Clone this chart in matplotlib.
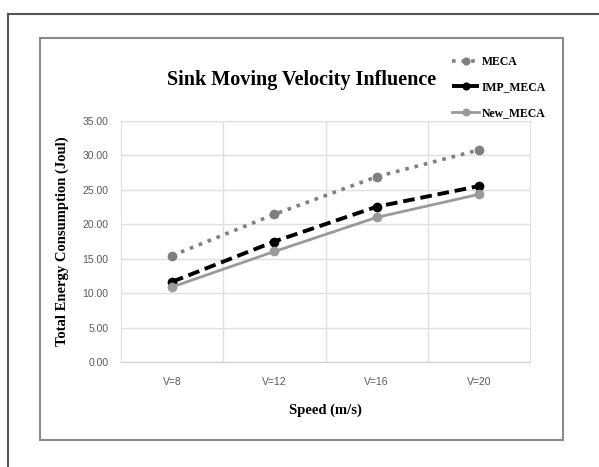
import matplotlib.pyplot as plt
from matplotlib.patches import Rectangle
from matplotlib.lines import Line2D

# datos
speeds = ['V=8', 'V=12', 'V=16', 'V=20']
meca = [15.45, 21.45, 26.9, 30.8]
imp_meca = [11.65, 17.5, 22.55, 25.55]
new_meca = [10.9, 16.05, 21.0, 24.35]
yticks = [0, 5, 10, 15, 20, 25, 30, 35]

W, H = 599, 467
fig = plt.figure(figsize=(W / 100, H / 100), dpi=100)

# marco exterior (solo izquierda y arriba visibles)
fig.add_artist(Line2D([8 / W, 8 / W], [0, 1 - 14 / H], transform=fig.transFigure,
                      color='#555555', linewidth=1.5))
fig.add_artist(Line2D([8 / W, 1], [1 - 14 / H, 1 - 14 / H], transform=fig.transFigure,
                      color='#555555', linewidth=1.5))
# caja del grafico
fig.add_artist(Rectangle((40 / W, 1 - 440 / H), 523 / W, 402 / H, transform=fig.transFigure,
                         fill=False, edgecolor='#8a8a8a', linewidth=1.5))

ax = fig.add_axes([121 / W, 1 - 362 / H, (530 - 121) / W, (362 - 121) / H])
x = range(len(speeds))
ax.plot(x, meca, ':', color='#7f7f7f', linewidth=2.6, marker='o', markersize=6, label='MECA')
ax.plot(x, imp_meca, '--', color='black', linewidth=2.8, marker='o', markersize=6,
        dashes=(3, 1.5), label='IMP_MECA')
ax.plot(x, new_meca, '-', color='#9a9a9a', linewidth=2, marker='o', markersize=6,
        label='New_MECA')

ax.set_xlim(-0.5, 3.5)
ax.set_ylim(0, 35)
ax.set_yticks(yticks)
ax.set_yticklabels(['%.2f' % v for v in yticks])
ax.set_xticks(list(x))
ax.set_xticklabels(speeds)
ax.set_xticks([0.5, 1.5, 2.5], minor=True)
ax.grid(True, which='minor', axis='x', color='#e0e0e0', linewidth=1)
ax.grid(True, which='major', axis='y', color='#e0e0e0', linewidth=1)
ax.tick_params(which='both', length=0)
ax.tick_params(axis='y', pad=9)
ax.tick_params(axis='x', pad=11)
for lab in ax.get_xticklabels() + ax.get_yticklabels():
    lab.set_fontfamily('Liberation Sans')
    lab.set_fontsize(7.5)
    lab.set_color('#595959')
for s in ['top', 'right', 'left']:
    ax.spines[s].set_color('#e0e0e0')
ax.spines['bottom'].set_color('#d0d0d0')
ax.set_axisbelow(True)

serif = {'family': 'Liberation Serif', 'weight': 'bold'}
fig.text(302 / W, 1 - 80 / H, 'Sink Moving Velocity Influence', ha='center', va='center',
         fontsize=14.5, **serif)
ax.set_xlabel('Speed (m/s)', fontdict=serif, fontsize=10.5, labelpad=12)
ax.set_ylabel('Total Energy Consumption (Joul)', fontdict=serif, fontsize=10.5, labelpad=10)

ax.legend(loc='upper left', bbox_to_anchor=(452 / W, 1 - 56 / H), bbox_transform=fig.transFigure,
          frameon=False, prop={'family': 'Liberation Serif', 'weight': 'bold', 'size': 8.5},
          handlelength=2.3, handletextpad=0.2, labelspacing=1.15, borderaxespad=0,
          borderpad=0, markerscale=0.8)

fig.savefig('out.png', dpi=100)
